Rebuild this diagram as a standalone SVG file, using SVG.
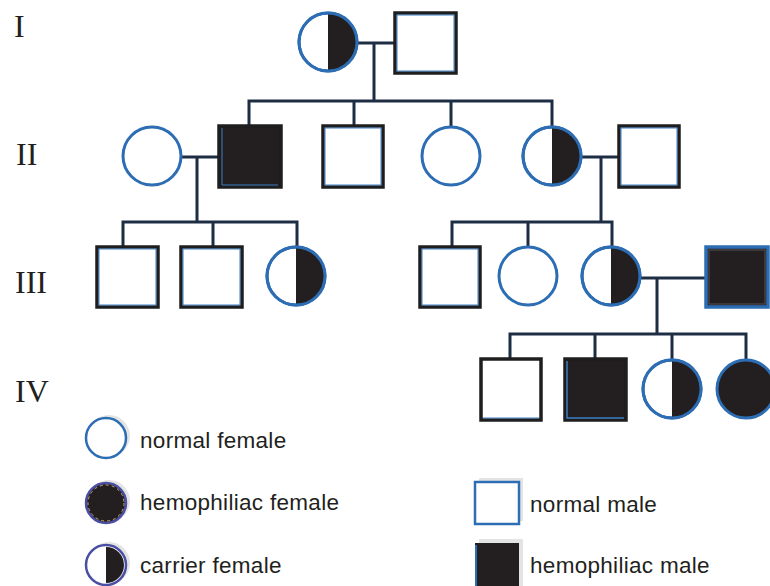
<svg xmlns="http://www.w3.org/2000/svg" width="770" height="586" viewBox="0 0 770 586">
<style>
.f{fill:#fff;stroke:#2c6db3;stroke-width:3}
.hf{fill:#231f20}
.m{fill:#fff;stroke:#1e1e1e;stroke-width:3.5}
.mi{fill:none;stroke:#3d7fc2;stroke-width:1}
.mb{fill:#231f20;stroke:#1e1e1e;stroke-width:3.5}
.ln{fill:none;stroke:#1d2e44;stroke-width:3;stroke-linecap:square}
.gen{font-family:"Liberation Serif",serif;font-size:32px;fill:#231f20}
.lg{font-family:"Liberation Sans",Arial,sans-serif;font-size:22.5px;letter-spacing:0.3px;fill:#231f20}
.sh{fill:#e4e4e4}
.lf{fill:#fff;stroke:#4a4fa3;stroke-width:2.5}
</style>
<text class="gen" x="14" y="37">I</text>
<text class="gen" x="16" y="165">II</text>
<text class="gen" x="15" y="293">III</text>
<text class="gen" x="15" y="402">IV</text>
<g id="connectors">
<path class="ln" d="M357,43 H395 M374,43 V101 M249,101 H552 M249,101 V126 M354,101 V126 M451,101 V126 M552,101 V126"/>
<path class="ln" d="M182,157 H219 M197,157 V222 M123,222 H297 M123,222 V247 M213,222 V247 M297,222 V246"/>
<path class="ln" d="M582,157 H619 M601,157 V222 M452,222 H612 M452,222 V247 M528,222 V246 M612,222 V246"/>
<path class="ln" d="M641,278 H706 M657,278 V334 M510,334 H746 M510,334 V359 M595,334 V359 M672,334 V359 M746,334 V359"/>
</g>
<g id="I-1"><circle class="f" cx="328" cy="42" r="29"/><path class="hf" d="M328,13 A29,29 0 0 1 328,71 Z"/><circle cx="328" cy="42" r="29" fill="none" stroke="#2c6db3" stroke-width="3"/></g>
<g id="I-2"><rect class="m" x="395" y="13" width="61" height="60"/><rect class="mi" x="397" y="15" width="57" height="56"/></g>
<g id="II-1"><circle class="f" cx="152" cy="156" r="29"/></g>
<g id="II-2"><rect class="mb" x="219" y="126" width="62" height="61"/><path d="M222,128 V185 H278" fill="none" stroke="#3d7fc2" stroke-width="1"/></g>
<g id="II-3"><rect class="m" x="323" y="126" width="60" height="61"/><rect class="mi" x="325" y="128" width="56" height="57"/></g>
<g id="II-4"><circle class="f" cx="451" cy="156" r="29"/></g>
<g id="II-5"><circle class="f" cx="552" cy="156" r="29"/><path class="hf" d="M552,127 A29,29 0 0 1 552,185 Z"/><circle cx="552" cy="156" r="29" fill="none" stroke="#2c6db3" stroke-width="3"/></g>
<g id="II-6"><rect class="m" x="619" y="126" width="60" height="61"/><rect class="mi" x="621" y="128" width="56" height="57"/></g>
<g id="III-1"><rect class="m" x="97" y="247" width="61" height="60"/><rect class="mi" x="99" y="249" width="57" height="56"/></g>
<g id="III-2"><rect class="m" x="181" y="247" width="61" height="60"/><rect class="mi" x="183" y="249" width="57" height="56"/></g>
<g id="III-3"><circle class="f" cx="296" cy="276" r="29"/><path class="hf" d="M296,247 A29,29 0 0 1 296,305 Z"/><circle cx="296" cy="276" r="29" fill="none" stroke="#2c6db3" stroke-width="3"/></g>
<g id="III-4"><rect class="m" x="420" y="247" width="60" height="60"/><rect class="mi" x="422" y="249" width="56" height="56"/></g>
<g id="III-5"><circle class="f" cx="528" cy="276" r="29"/></g>
<g id="III-6"><circle class="f" cx="611" cy="276" r="29"/><path class="hf" d="M611,247 A29,29 0 0 1 611,305 Z"/><circle cx="611" cy="276" r="29" fill="none" stroke="#2c6db3" stroke-width="3"/></g>
<g id="III-7"><rect class="mb" x="706" y="247" width="62" height="60" style="stroke:#2c6db3"/><rect x="709" y="250" width="56" height="54" fill="none" stroke="#555" stroke-width="1"/></g>
<g id="IV-1"><rect class="m" x="481" y="359" width="60" height="61"/><path d="M483,418 H539" stroke="#3d7fc2" stroke-width="1"/></g>
<g id="IV-2"><rect class="mb" x="565" y="359" width="61" height="61"/><path d="M567,361 V418 H624" fill="none" stroke="#3d7fc2" stroke-width="1.5"/></g>
<g id="IV-3"><circle class="f" cx="672" cy="389" r="29"/><path class="hf" d="M672,360 A29,29 0 0 1 672,418 Z"/><circle cx="672" cy="389" r="29" fill="none" stroke="#2c6db3" stroke-width="3"/></g>
<g id="IV-4"><circle class="f" cx="746" cy="389" r="29" style="fill:#231f20"/></g>
<g id="legend-normal-female"><circle class="sh" cx="109" cy="436" r="21"/><circle class="lf" cx="106" cy="438" r="20" style="stroke:#2c6db3"/><text class="lg" x="140" y="448">normal female</text></g>
<g id="legend-hemophiliac-female"><circle class="sh" cx="109" cy="501" r="21"/><circle class="lf" cx="106" cy="503" r="20" style="fill:#231f20"/><circle cx="106" cy="503" r="18" fill="none" stroke="#c9a86a" stroke-width="1" stroke-dasharray="3,3"/><text class="lg" x="140" y="510">hemophiliac female</text></g>
<g id="legend-carrier-female"><circle class="sh" cx="109" cy="563" r="21"/><circle class="lf" cx="106" cy="565" r="20"/><path class="hf" d="M106,547 A18,18 0 0 1 106,583 Z"/><text class="lg" x="140" y="573">carrier female</text></g>
<g id="legend-normal-male"><rect class="sh" x="479" y="478" width="44" height="43"/><rect x="475" y="482" width="44" height="42" fill="#fff" stroke="#2c6db3" stroke-width="2.5"/><text class="lg" x="530" y="512">normal male</text></g>
<g id="legend-hemophiliac-male"><rect class="sh" x="479" y="539" width="44" height="47"/><rect x="475" y="543" width="44" height="45" fill="#231f20"/><path d="M476,545 V588" stroke="#2c6db3" stroke-width="2"/><text class="lg" x="530" y="573">hemophiliac male</text></g>
</svg>
